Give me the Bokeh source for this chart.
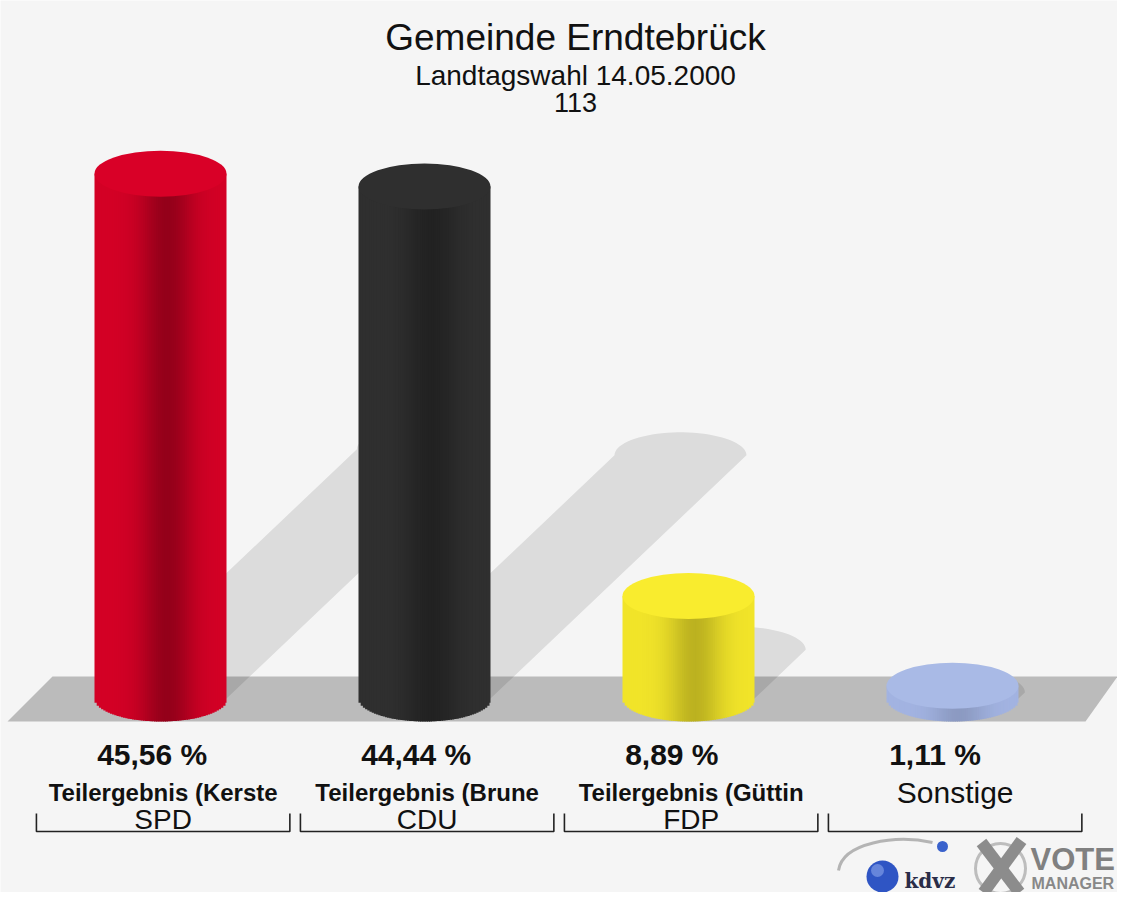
import numpy as np
from bokeh.plotting import figure
from bokeh.models import Range1d, ColumnDataSource, Label
from bokeh.core.properties import value
from bokeh.embed import file_html
from bokeh.resources import INLINE

# ---------------- data ----------------
title_text = "Gemeinde Erndtebrück"
subtitle_text = "Landtagswahl 14.05.2000"
district_text = "113"
parties = ["SPD", "CDU", "FDP", "Sonstige"]
candidates = ["Teilergebnis (Kerste", "Teilergebnis (Brune", "Teilergebnis (Güttin", ""]
shares = [45.56, 44.44, 8.89, 1.11]
side_colors = ["#d40026", "#303030", "#f2e52a", "#a3b4e2"]
top_colors = ["#d90027", "#2f2f2f", "#f9ec2e", "#a9bae6"]
shade_depth = [0.30, 0.28, 0.22, 0.14]

# ---------------- layout helpers ----------------
W, H, OFF = 1117, 892, 0
PX0, DX = 160.0, 264.0      # pixel of first category centre, pixels per category
Y0, K = 698.0, 11.52        # pixel of 0 %, pixels per percent


def xd(px):
    return (px - PX0) / DX


def yd(py):
    return (Y0 - py) / K


def shade(hexcol, f):
    h = hexcol.lstrip("#")
    r, g, b = (int(h[i:i + 2], 16) for i in (0, 2, 4))
    return "#%02x%02x%02x" % (int(min(255, r * f)), int(min(255, g * f)), int(min(255, b * f)))


BG = "#f5f5f5"
p = figure(width=W, height=H,
           x_range=Range1d(xd(OFF), xd(OFF + W)),
           y_range=Range1d(yd(OFF + H), yd(OFF)),
           output_backend="svg", toolbar_location=None, min_border=0,
           x_axis_location=None, y_axis_location=None)
p.grid.visible = False
p.outline_line_color = None
p.background_fill_color = BG
p.border_fill_color = BG

hw = 66.0 / DX          # half bar width (category units)
eb = 23.0 / K           # ellipse half height (percent units)
idx = list(range(len(parties)))

# ---------------- floor ----------------
p.patch(x=[xd(52), xd(1117), xd(1085), xd(7)],
        y=[yd(676), yd(676), yd(721), yd(721)],
        fill_color="#bbbbbb", line_color=None)

# ---------------- shadows ----------------
sxs, sys_ = [], []
theta = np.linspace(0, np.pi, 40)
for i, v in zip(idx, shares):
    sx = 0.5 * v * K / DX
    sy = 0.475 * v
    xs = [i - hw, i + hw] + list(i + sx + hw * np.cos(theta))
    ys = [0, 0] + list(sy + eb * np.sin(theta))
    sxs.append(xs)
    sys_.append(ys)
p.patches(xs=sxs, ys=sys_, fill_color="black", fill_alpha=0.1, line_color=None)

# ---------------- cylinder bodies ----------------
N = 60
tedges = np.linspace(0, 1, N + 1)
tc = 0.5 * (tedges[:-1] + tedges[1:])
ov = 1.2 / DX
L, R, B, T, C = [], [], [], [], []
for i, v in zip(idx, shares):
    prof = 1 - shade_depth[i] * np.exp(-((tc - 0.55) / 0.2) ** 2)
    for k in range(N):
        L.append(i - hw + 2 * hw * tedges[k])
        R.append(min(i + hw, i - hw + 2 * hw * tedges[k + 1] + ov))
        B.append(-eb * np.sqrt(max(0.0, 1 - (2 * tc[k] - 1) ** 2)))
        T.append(v)
        C.append(shade(side_colors[i], prof[k]))
p.quad(left=L, right=R, bottom=B, top=T, fill_color=C, line_color=None)

# top faces
p.ellipse(x=idx, y=shares, width=2 * hw, height=2 * eb,
          fill_color=top_colors, line_color=None)

# ---------------- labels under bars ----------------
FONT = "Liberation Sans"
val_labels = [("%.2f" % v).replace(".", ",") + " %" for v in shares]
src_val = ColumnDataSource(dict(x=[i - 0.24 for i in idx], y=[yd(754)] * 4, t=val_labels))
p.text(x="x", y="y", text="t", source=src_val, text_font=value(FONT),
       text_font_size="30px", text_font_style="bold", text_align="left",
       text_baseline="alphabetic", text_color="#111111")

name_x, name_t, name_style, name_size = [], [], [], []
party_x, party_t = [], []
for i in idx:
    if candidates[i]:
        name_x.append(i + 0.01)
        name_t.append(candidates[i])
        name_style.append("bold")
        name_size.append("24px")
        party_x.append(i + 0.01)
        party_t.append(parties[i])
    else:
        name_x.append(i + 0.01)
        name_t.append(parties[i])
        name_style.append("normal")
        name_size.append("30px")
src_name = ColumnDataSource(dict(x=name_x, y=[yd(792)] * len(name_x), t=name_t,
                                 st=name_style, sz=name_size))
p.text(x="x", y="y", text="t", source=src_name, text_font=value(FONT),
       text_font_size="sz", text_font_style="st", text_align="center",
       text_baseline="alphabetic", text_color="#111111")
src_party = ColumnDataSource(dict(x=party_x, y=[yd(819)] * len(party_x), t=party_t))
p.text(x="x", y="y", text="t", source=src_party, text_font=value(FONT),
       text_font_size="28px", text_align="center",
       text_baseline="alphabetic", text_color="#111111")

# brackets
bxs, bys = [], []
for i in idx:
    bxs.append([i - 0.47, i - 0.47, i + 0.49, i + 0.49])
    bys.append([yd(813), yd(831), yd(831), yd(813)])
p.multi_line(xs=bxs, ys=bys, line_color="#222222", line_width=1.6)

# ---------------- titles ----------------
for txt, yy, sz in [(title_text, 36.5, "37px"), (subtitle_text, 75, "28px"), (district_text, 101.5, "27px")]:
    p.add_layout(Label(x=xd(575), y=yd(yy), text=txt, text_font=FONT,
                       text_font_size=sz, text_align="center", text_baseline="alphabetic",
                       text_color="#111111"))

# ---------------- logo ----------------
p.bezier(x0=[xd(838)], y0=[yd(870)], x1=[xd(932)], y1=[yd(842)],
         cx0=[xd(842)], cy0=[yd(842)], cx1=[xd(895)], cy1=[yd(834)],
         line_color="#b4b4b4", line_width=3)
p.scatter(x=[xd(882)], y=[yd(876)], size=32, fill_color="#2f55c4", line_color=None)
p.scatter(x=[xd(877)], y=[yd(870)], size=13, fill_color="#7d9ae6", fill_alpha=0.7, line_color=None)
p.scatter(x=[xd(942)], y=[yd(846)], size=11, fill_color="#3a62cc", line_color=None)
p.text(x=[xd(904)], y=[yd(880)], text=["kdvz"], text_font=value("DejaVu Serif"),
       text_font_size="20px", text_font_style="bold", text_color="#2a2d48",
       text_align="left", text_baseline="alphabetic")
p.scatter(x=[xd(1000)], y=[yd(868)], size=50, fill_color=None, line_color="#bdbdbd", line_width=3)
p.segment(x0=[xd(981), xd(1021)], y0=[yd(842), yd(840)], x1=[xd(1019), xd(983)], y1=[yd(892), yd(892)],
          line_color="#8c8c8c", line_width=12)
p.text(x=[xd(1030)], y=[yd(859)], text=["VOTE"], text_font=value(FONT),
       text_font_size="31px", text_font_style="bold", text_color="#808080",
       text_align="left", text_baseline="alphabetic")
p.text(x=[xd(1031)], y=[yd(883)], text=["MANAGER"], text_font=value(FONT),
       text_font_size="16px", text_font_style="bold", text_color="#888888",
       text_align="left", text_baseline="alphabetic")

open("out.html", "w").write(file_html(p, INLINE))
